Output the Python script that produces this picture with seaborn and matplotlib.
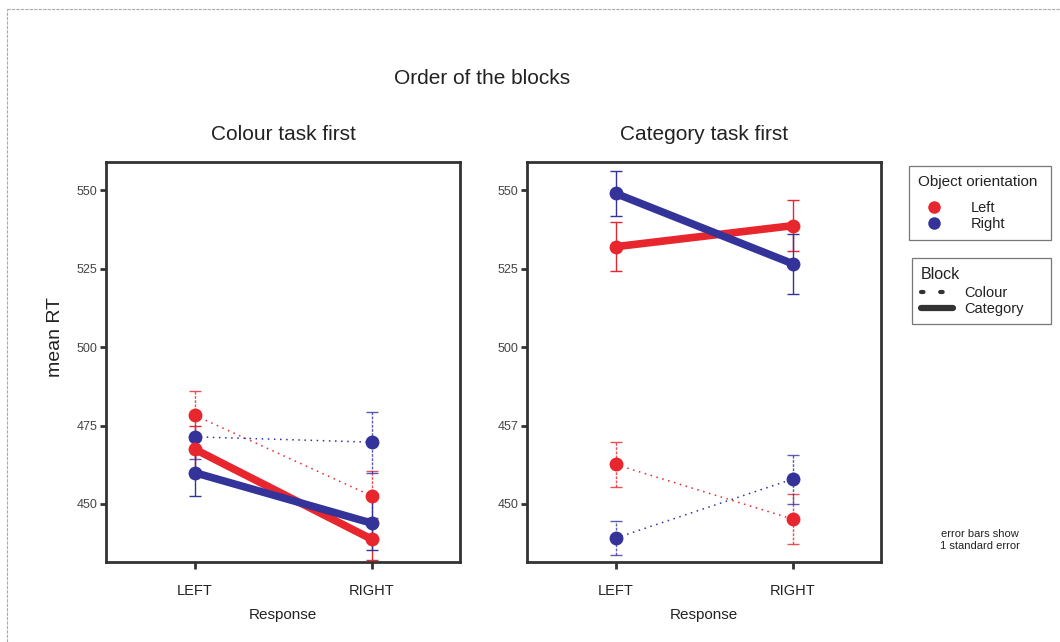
import numpy as np
import pandas as pd
import matplotlib
matplotlib.use("Agg")
import matplotlib.pyplot as plt
import matplotlib.lines as mlines
import seaborn as sns

# values (means and 1 SE)
responses = ["LEFT", "RIGHT"]
orientations = ["Left", "Right"]
panels = ["Colour task first", "Category task first"]

# Colour task first
cf_left_colour_mean = [478.3, 452.6]
cf_left_colour_se = [7.8, 8.0]
cf_right_colour_mean = [471.4, 469.7]
cf_right_colour_se = [7.2, 9.7]
cf_left_category_mean = [467.5, 438.8]
cf_left_category_se = [7.5, 6.8]
cf_right_category_mean = [460.0, 443.9]
cf_right_category_se = [7.4, 8.5]

# Category task first
kf_left_colour_mean = [462.6, 445.2]
kf_left_colour_se = [7.3, 7.9]
kf_right_colour_mean = [439.1, 457.9]
kf_right_colour_se = [5.5, 7.8]
kf_left_category_mean = [532.0, 538.7]
kf_left_category_se = [7.9, 8.2]
kf_right_category_mean = [549.0, 526.6]
kf_right_category_se = [7.2, 9.6]

yticks = [450, 475, 500, 525, 550]
yticklabels_left = ["450", "475", "500", "525", "550"]
yticklabels_right = ["450", "457", "500", "525", "550"]

rows = []
for panel, block, orient, m, s in [
    (panels[0], "Colour", "Left", cf_left_colour_mean, cf_left_colour_se),
    (panels[0], "Colour", "Right", cf_right_colour_mean, cf_right_colour_se),
    (panels[0], "Category", "Left", cf_left_category_mean, cf_left_category_se),
    (panels[0], "Category", "Right", cf_right_category_mean, cf_right_category_se),
    (panels[1], "Colour", "Left", kf_left_colour_mean, kf_left_colour_se),
    (panels[1], "Colour", "Right", kf_right_colour_mean, kf_right_colour_se),
    (panels[1], "Category", "Left", kf_left_category_mean, kf_left_category_se),
    (panels[1], "Category", "Right", kf_right_category_mean, kf_right_category_se),
]:
    for r, mv, sv in zip(responses, m, s):
        rows.append({"Panel": panel, "Block": block, "Orientation": orient,
                     "Response": r, "RT": mv, "SE": sv})
df = pd.DataFrame(rows)

sns.set_theme(style="ticks")
plt.rcParams['font.family'] = ['Liberation Sans', 'DejaVu Sans']
plt.rcParams['text.color'] = '#222222'

pal = {"Left": "#E8262E", "Right": "#333399"}
line_kw = {"Colour": dict(linewidth=1.1, linestyle=(0, (1, 3))),
           "Category": dict(linewidth=5.5, linestyle="-")}

fig = plt.figure(figsize=(10.6, 6.42), dpi=100)
W, H = 1060, 642
ax1 = fig.add_axes([106 / W, (H - 562) / H, 354 / W, 400 / H])
ax2 = fig.add_axes([527 / W, (H - 562) / H, 354 / W, 400 / H])

for ax, panel, ylabs in [(ax1, panels[0], yticklabels_left), (ax2, panels[1], yticklabels_right)]:
    for block in ["Colour", "Category"]:
        sub = df[(df.Panel == panel) & (df.Block == block)]
        for orient in orientations:
            g = sub[sub.Orientation == orient]
            eb = ax.errorbar(g["Response"], g["RT"], yerr=g["SE"], fmt="none",
                             ecolor=pal[orient], elinewidth=1.0, capsize=4, capthick=1.0,
                             alpha=0.8 if block == "Colour" else 1.0, zorder=2)
            if block == "Colour":
                for lc in eb[2]:
                    lc.set_linestyle((0, (2, 1)))
        sns.lineplot(data=sub, x="Response", y="RT", hue="Orientation",
                     hue_order=orientations, palette=pal, marker="o", markersize=10,
                     markeredgewidth=0, legend=False, sort=False, ax=ax,
                     zorder=3, **line_kw[block])
    ax.set_xlim(-0.5, 1.5)
    ax.set_ylim(431.5, 559)
    ax.set_yticks(yticks)
    ax.set_yticklabels(ylabs, fontsize=9, color="#444444")
    ax.set_xticks([0, 1])
    ax.set_xticklabels(responses, fontsize=10.5, color="#222222")
    ax.set_xlabel("Response", fontsize=11, labelpad=7, color="#222222")
    ax.set_ylabel("")
    ax.set_title(panel, fontsize=15, pad=16, color="#222222")
    for sp in ax.spines.values():
        sp.set_visible(True)
        sp.set_linewidth(2)
        sp.set_color("#333333")
    ax.tick_params(axis="y", length=4, width=2, color="#333333", pad=2)
    ax.tick_params(axis="x", length=5, width=2, color="#333333", pad=11)

fig.text(55 / W, 1 - 337 / H, "mean RT", rotation=90, fontsize=14,
         ha="center", va="center", color="#222222")
fig.text(482 / W, 1 - 78 / H, "Order of the blocks", fontsize=15,
         ha="center", va="center", color="#222222")
fig.text(980 / W, 1 - 540 / H, "error bars show\n1 standard error", fontsize=8,
         ha="center", va="center", color="#222222", linespacing=1.3)

h_orient = [mlines.Line2D([], [], color=pal[o], marker="o", markersize=9,
                          markeredgewidth=0, linestyle="none", label=o) for o in orientations]
leg1 = fig.legend(handles=h_orient, title="Object orientation", loc="upper left",
                  bbox_to_anchor=(909 / W, 1 - 166 / H - 0.2, 142 / W, 0.2), mode="expand",
                  borderaxespad=0, fontsize=10.5, title_fontsize=11, frameon=True,
                  fancybox=False, alignment="left", handletextpad=1.4, labelspacing=0.12,
                  borderpad=0.6, handlelength=2.2)
leg1.get_frame().set_edgecolor("#555555")
leg1.get_frame().set_linewidth(0.9)
leg1._legend_box.sep = 9

h_block = [mlines.Line2D([], [], color="#333333", linewidth=3, linestyle=(0, (0.6, 4)),
                         dash_capstyle="round", label="Colour"),
           mlines.Line2D([], [], color="#333333", linewidth=4.5, linestyle="-", label="Category")]
leg2 = fig.legend(handles=h_block, title="Block", loc="upper left",
                  bbox_to_anchor=(912 / W, 1 - 258 / H - 0.2, 139 / W, 0.2), mode="expand",
                  borderaxespad=0, fontsize=10.5, title_fontsize=11.5, frameon=True,
                  fancybox=False, alignment="left", handletextpad=0.8, labelspacing=0.12,
                  borderpad=0.6, handlelength=2.2)
leg2.get_frame().set_edgecolor("#555555")
leg2.get_frame().set_linewidth(0.9)
leg2._legend_box.sep = 3

# thin outer border (top and left)
fig.add_artist(mlines.Line2D([7 / W, 1.0], [1 - 9 / H, 1 - 9 / H], color="#aaaaaa",
                             linewidth=0.8, linestyle=(0, (3, 1))))
fig.add_artist(mlines.Line2D([7 / W, 7 / W], [0, 1 - 9 / H], color="#aaaaaa",
                             linewidth=0.8, linestyle=(0, (3, 1))))

fig.savefig("out.png", dpi=100)
